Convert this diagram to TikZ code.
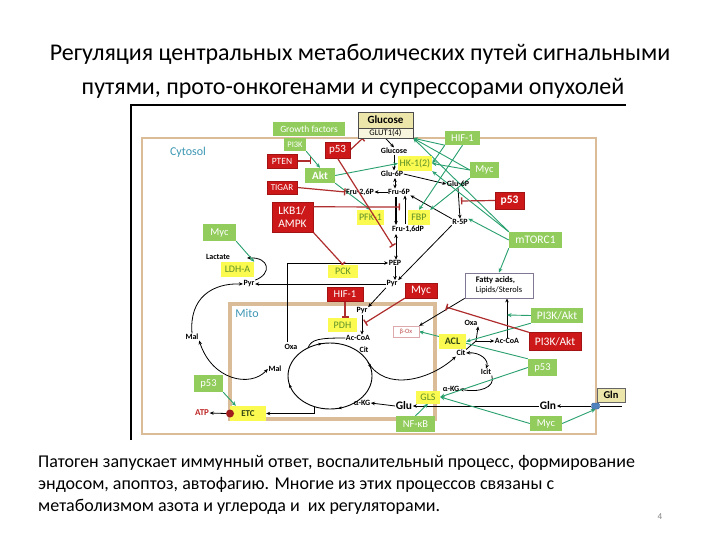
\documentclass[tikz,border=0pt]{standalone}
\usepackage{fontspec}
\setmainfont{Carlito}
\usetikzlibrary{arrows.meta,calc,decorations.markings}
\pgfdeclarelayer{back}\pgfdeclarelayer{bg}
\pgfsetlayers{back,bg,main}
\definecolor{gfill}{RGB}{146,204,92}
\definecolor{rfill}{RGB}{204,24,24}
\definecolor{yfill}{RGB}{250,250,80}
\definecolor{ytext}{RGB}{95,145,40}
\definecolor{ydark}{RGB}{50,70,20}
\definecolor{gline}{RGB}{40,160,110}
\definecolor{rline}{RGB}{175,45,45}
\definecolor{tanc}{RGB}{218,188,152}
\definecolor{tealc}{RGB}{60,150,180}
\definecolor{khaki}{RGB}{236,230,170}
\begin{document}
\begin{tikzpicture}[x=1pt,y=-1pt,
 wh/.style 2 args={minimum width=#1, minimum height=#2},
 bx/.style={inner sep=0pt, align=center, font=\fontsize{10.5}{11}\selectfont},
 gb/.style={bx, fill=gfill, text=white},
 rb/.style={bx, fill=rfill, text=white, draw=rfill!80!black, line width=0.4pt},
 yb/.style={bx, fill=yfill, text=ytext, font=\fontsize{10}{11}\selectfont},
 lb/.style={inner sep=0.5pt, font=\fontsize{8}{9}\selectfont\bfseries},
 ga/.style={draw=gline, line width=0.9pt, -{Stealth[length=4.5pt,width=4pt]}},
 ri/.style={draw=rline, line width=1.2pt, -{Bar[width=7pt,line width=1.4pt]}},
 ba/.style={draw=black, line width=0.8pt, -{Stealth[length=4pt,width=3.5pt]}},
 bda/.style={draw=black, line width=0.8pt, {Stealth[length=4pt,width=3.5pt]}-{Stealth[length=4pt,width=3.5pt]}},
 bl/.style={draw=black, line width=0.8pt}]
\useasboundingbox (0,0) rectangle (720,540);
\begin{pgfonlayer}{back}
\fill[white] (0,0) rectangle (720,540);
\draw[black, line width=1.5pt] (131,440) -- (131,105) -- (626,105);
\draw[tanc, line width=2.2pt] (142,138) rectangle (596,434);
\draw[tanc, line width=3.2pt] (230,304) rectangle (435,419);
\end{pgfonlayer}

% titles
\node[font=\fontsize{24}{28}\selectfont] (t1) at (360,54) {Регуляция центральных метаболических путей сигнальными};
\node[font=\fontsize{24}{28}\selectfont] (t2) at (353,88) {путями, прото-онкогенами и супрессорами опухолей};
\node[anchor=north west, align=left, inner sep=0pt, font=\fontsize{18}{22}\selectfont] (desc) at (38,455)
 {Патоген запускает иммунный ответ, воспалительный процесс, формирование\\эндосом, апоптоз, автофагию. Многие из этих процессов связаны с\\метаболизмом азота и углерода и ~их регуляторами.};
\node[text=gray, font=\fontsize{9}{10}\selectfont] (pg) at (660,517) {4};

% compartment labels
\node[text=tealc, font=\fontsize{12}{13}\selectfont] (cyt) at (188,152) {Cytosol};
\node[text=tealc, font=\fontsize{12}{13}\selectfont] (mito) at (247,313) {Mito};

% glucose box
\node[draw=black!70, fill=khaki, wh={55}{16}, inner sep=0pt, font=\fontsize{11}{12}\selectfont\bfseries] (glch) at (385.5,120) {Glucose};
\node[draw=black!70, fill=khaki!40, wh={55}{10}, inner sep=0pt, font=\fontsize{8.5}{9}\selectfont] (glut) at (385.5,133) {GLUT1(4)};
\node[draw=black!60, fill=khaki, wh={28}{14}, inner sep=0pt, font=\fontsize{10.5}{11}\selectfont\bfseries] (glnbox) at (611,395) {Gln};

% green boxes
\node[gb,wh={72}{14},font=\fontsize{9.5}{10}\selectfont] (gf) at (309,129) {Growth factors};
\node[gb,wh={22}{13},font=\fontsize{8.5}{9}\selectfont] (pi3k) at (295,144.5) {PI3K};
\node[gb,wh={30}{15},font=\fontsize{11}{12}\selectfont\bfseries] (akt) at (320,175.5) {Akt};
\node[gb,wh={35}{14}] (hifg) at (462.5,138) {HIF-1};
\node[gb,wh={29}{16}] (mycr) at (484.5,170) {Myc};
\node[gb,wh={53}{16},font=\fontsize{11.5}{12}\selectfont] (mtor) at (535.5,240) {mTORC1};
\node[gb,wh={33}{17}] (mycl) at (219.5,232.5) {Myc};
\node[gb,wh={52}{15},font=\fontsize{11.5}{12}\selectfont] (pkg) at (557,315.5) {PI3K/Akt};
\node[gb,wh={29}{17}] (p53g) at (542.5,367.5) {p53};
\node[gb,wh={32}{15}] (mycb) at (546,423.5) {Myc};
\node[gb,wh={39}{16}] (nfkb) at (415.5,424) {NF-κB};
\node[gb,wh={29}{17}] (p53l) at (208.5,383.5) {p53};

% red boxes
\node[rb,wh={30}{14},font=\fontsize{9.5}{10}\selectfont] (pten) at (282,161) {PTEN};
\node[rb,wh={30}{13},font=\fontsize{9}{10}\selectfont] (tigar) at (282,187.5) {TIGAR};
\node[rb,wh={25}{16},font=\fontsize{11}{12}\selectfont] (p53t) at (337.5,150) {p53};
\node[rb,wh={41}{30},font=\fontsize{11.5}{13}\selectfont, align=left] (lkb) at (292.5,217) {LKB1/\\AMPK};
\node[rb,wh={29}{17},font=\fontsize{11.5}{12}\selectfont\bfseries] (p53r) at (509.5,200.5) {p53};
\node[rb,wh={36}{14}] (hifr) at (345,294) {HIF-1};
\node[rb,wh={32}{15},font=\fontsize{11.5}{12}\selectfont] (mycred) at (421,290.5) {Myc};
\node[rb,wh={52}{18},font=\fontsize{11.5}{12}\selectfont] (pkr) at (555,341.5) {PI3K/Akt};

% yellow boxes
\node[yb,wh={34}{15}] (hk) at (415,163.5) {HK-1(2)};
\node[yb,wh={27}{15}] (pfk) at (370.5,217.5) {PFK-1};
\node[yb,wh={22}{15}] (fbp) at (419,217.5) {FBP};
\node[yb,wh={33}{15}] (ldha) at (237.5,269.5) {LDH-A};
\node[yb,wh={30}{13}] (pck) at (343,271.5) {PCK};
\node[yb,wh={29}{14}] (pdh) at (342.5,325) {PDH};
\node[yb,wh={27}{15},text=ydark,font=\fontsize{10}{11}\selectfont\bfseries] (acl) at (452.5,341.5) {ACL};
\node[yb,wh={24}{13}] (gls) at (428,397) {GLS};
\node[yb,wh={36}{15},text=ydark,font=\fontsize{9}{10}\selectfont\bfseries] (etc) at (248,413.5) {ETC};

% other boxes
\node[draw={rgb,255:red,130;green,120;blue,150}, line width=0.8pt, fill=white, wh={68}{25}, inner sep=2pt, align=left, font=\fontsize{8.5}{10}\selectfont] (fatty) at (499,285.5) {\textbf{Fatty acids,}\\Lipids/Sterols};
\node[draw={rgb,255:red,220;green,170;blue,170}, fill=white, wh={26}{11}, inner sep=0pt, text={rgb,255:red,190;green,80;blue,80}, font=\fontsize{6.5}{7}\selectfont] (box) at (406,331.5) {β-Ox};
\node[rounded corners=1.5pt, fill={rgb,255:red,79;green,129;blue,189}, draw={rgb,255:red,60;green,100;blue,150}, wh={8}{6}, inner sep=0pt] (trans) at (595.5,406) {};
\node[circle, fill={rgb,255:red,160;green,30;blue,30}, minimum size=8pt, inner sep=0pt] (dot) at (230,413.5) {};

% metabolite labels
\node[lb] (glc) at (394,151) {Glucose};
\node[lb] (g6p) at (392,174) {Glu-6P};
\node[lb] (fru26) at (360,192) {Fru-2,6P};
\node[lb] (f6p) at (399,192) {Fru-6P};
\node[lb] (g6pr) at (458,184) {Glu-6P};
\node[lb] (r5p) at (460,222) {R-5P};
\node[lb] (f16) at (408,229) {Fru-1,6dP};
\node[lb] (pep) at (395,263) {PEP};
\node[lb] (pyr) at (392,284) {Pyr};
\node[lb] (pyrm) at (362,311) {Pyr};
\node[lb] (acoa) at (358,338) {Ac-CoA};
\node[lb] (cit) at (364,350) {Cit};
\node[lb] (oxa) at (291,347) {Oxa};
\node[lb] (malm) at (275,369) {Mal};
\node[lb] (malc) at (192,337) {Mal};
\node[lb] (lac) at (218,257) {Lactate};
\node[lb] (pyrl) at (249,284) {Pyr};
\node[lb] (akgm) at (362,403) {α-KG};
\node[lb, font=\fontsize{11.5}{12}\selectfont\bfseries] (glu) at (404,406) {Glu};
\node[lb, font=\fontsize{11.5}{12}\selectfont\bfseries] (glnin) at (548,406) {Gln};
\node[lb] (oxar) at (471,323) {Oxa};
\node[lb] (acoar) at (507,341) {Ac-CoA};
\node[lb] (citr) at (461,353) {Cit};
\node[lb] (icit) at (486,372) {Icit};
\node[lb] (akgr) at (451,389) {α-KG};
\node[lb, text={rgb,255:red,192;green,40;blue,40}, font=\fontsize{9}{10}\selectfont\bfseries] (atp) at (202,413) {ATP};

% helper coordinates
\coordinate (pgm) at (393,246);
\coordinate (pfkbar) at (400,207);
\coordinate (ppbar) at (461,201);
\coordinate (ptenbar) at (311,161);
\coordinate (akbar) at (446,307);
\coordinate (mycbar) at (365,323);
\coordinate (lacin) at (247,258);
\coordinate (fain) at (507,315);
\coordinate (o1) at (287,342);
\coordinate (tc1) at (308,348);
\coordinate (tc2) at (368,362);
\coordinate (tc3) at (314,406.5);
\coordinate (jn) at (476,341);
\coordinate (d1) at (396,197);
\coordinate (d2) at (405,224);
\coordinate (d3) at (396,234);
\coordinate (d4) at (395,178);
\coordinate (glnend) at (622,406);
\coordinate (tca) at (330,376);

\begin{pgfonlayer}{bg}
% black metabolic arrows
\draw[ba] (glut.south) -- (glc.north);
\draw[ba] (glc.south) -- (glc.south |- g6p.north);
\draw[bda] (d4) -- (d4 |- f6p.north);
\draw[ba] (f6p.west) -- (fru26.east);
\draw[ba] (g6p.east) -- (g6pr.west);
\draw[ba] (g6pr.south) -- (r5p.north);
\draw[ba] (r5p.north west) -- (f6p.south east);
\draw[ba, line width=1.4pt] (d1) -- (d1 |- f16.north);
\draw[ba] (d2) -- (d2 |- f6p.south);
\draw[bda] (d3) -- (d3 |- pep.north);
\draw[ba] (pep.south) -- (pep.south |- pyr.north);
\draw[ba] (pyr.south west) -- (pyrm.north east);
\draw[ba] (pyrm.south) -- (pyrm.south |- acoa.north);
\draw[ba] (o1) |- (pep.west);
\draw[ba] (pyr.west) -- (pyrl.east);
\draw[ba] (pyrl.north east) .. controls (272,274) and (270,257) .. (lacin);
\draw[ba] (malc.north) .. controls (189,298) and (212,283) .. (pyrl.west);
\draw[bda] (malc.south east) .. controls (212,380) and (250,388) .. (malm.west);
\draw[black, line width=0.9pt, postaction={decorate}, decoration={markings,
  mark=at position 0.05 with {\arrow{Stealth[length=3.5pt,width=3pt,reversed]}},
  mark=at position 0.30 with {\arrow{Stealth[length=3.5pt,width=3pt,reversed]}},
  mark=at position 0.55 with {\arrow{Stealth[length=3.5pt,width=3pt,reversed]}},
  mark=at position 0.80 with {\arrow{Stealth[length=3.5pt,width=3pt,reversed]}}}]
  (tca) ellipse [x radius=42pt, y radius=33pt];
\draw[bl] (tc1) .. controls (311,339) and (320,338) .. (acoa.west);
\draw[ba] (tc2) .. controls (385,392) and (430,380) .. (citr.south west);
\draw[ba] (tc3) |- (etc.east);
\draw[ba] (dot.west) -- (atp.east);
\draw[ba] (glu.west) -- (akgm.east);
\draw[ba] (glnin.west) -- (glu.east);
\draw[ba] (trans.west) -- (glnin.east);
\draw[bl] (trans.east) -- (glnend);
\draw[bl] (citr.north east) -- (jn);
\draw[ba] (jn) -- (oxar.south east);
\draw[ba] (jn) -- (acoar.west);
\draw[ba] (acoar.north) -- (acoar.north |- fatty.south);
\draw[bda] (citr.east) .. controls (480,352) and (489,360) .. (icit.north);
\draw[ba] (icit.south east) .. controls (496,388) and (478,393) .. (akgr.east);
\draw[ba] (fatty.south west) -- (box.north east);
\draw[ba] (r5p.south west) -- (pyr.north east);

% green activations
\draw[ga] (pi3k.south east) -- (akt.north);
\draw[ga] (akt.east) -- (hk.west);
\draw[ga] (akt.south east) -- (pfk.north);
\draw[ga] (hifg.south west) -- (glut.south east);
\draw[ga] (mycr.west) -- (glut.south east);
\draw[ga] (hifg.south west) -- (hk.east);
\draw[ga] (mycr.west) -- (hk.east);
\draw[ga] (hifg.south) -- (fbp.north);
\draw[ga] (mycr.south west) -- (fbp.north east);
\draw[ga] (mtor.north west) -- (glut.south east);
\draw[ga] (mtor.north west) -- (hk.south east);
\draw[ga] (mtor.west) -- (r5p.north east);
\draw[ga] (mtor.south west) -- (fatty.north);
\draw[ga] (mycl.south east) -- (ldha.north east);
\draw[ga] (pkg.west) -- (fain);
\draw[ga] (pkg.south west) -- (acl.east);
\draw[ga] (p53g.north west) -- (box.east);
\draw[ga] (p53g.west) -- (gls.east);
\draw[ga] (mycb.west) -- (gls.east);
\draw[ga] (nfkb.north) -- (gls.south);
\draw[ga] (mycb.east) -- (trans.south);
\draw[ga] (p53l.south east) -- ($(etc.north west)+(6,0)$);

% red inhibitions
\draw[ri] (pten.east) -- (ptenbar);
\draw[ri] (tigar.east) -- (fru26.west);
\draw[ri] (p53t.east) -- ($(glut.south west)+(5,0)$);
\draw[ri] (lkb.south east) -- (pck.north);
\draw[ri] (p53r.west) -- (ppbar);
\draw[ri] (hifr.south) -- (hifr.south |- pdh.north);
\draw[ri] (mycred.south west) -- (mycbar);
\draw[ri] (pkr.north west) -- (akbar);
\end{pgfonlayer}
% inhibition lines that cross over boxes
\draw[ri] (p53t.south) -- (pgm);
\draw[ri] ($(lkb.north east)+(0,5)$) -- (pfkbar);
\end{tikzpicture}
\end{document}
